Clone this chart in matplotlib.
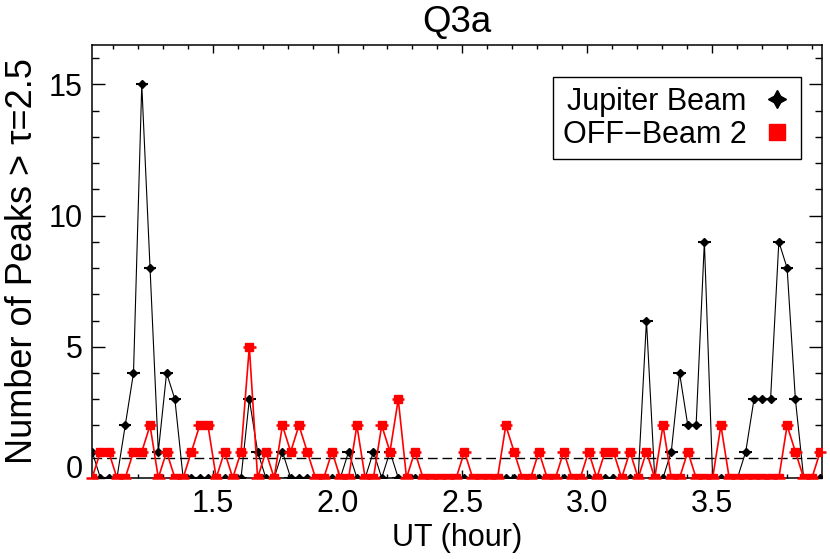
import numpy as np
import matplotlib
matplotlib.use("Agg")
import matplotlib.pyplot as plt
from matplotlib.ticker import MultipleLocator
from matplotlib.lines import Line2D

plt.rcParams['font.family'] = ['Liberation Sans', 'DejaVu Sans']
plt.rcParams['font.size'] = 22

# scan times (UT hour), one scan every ~2 min
t_start = 1.017
t_step = 0.03314
n_scans = 89
ut = t_start + np.arange(n_scans) * t_step

# number of peaks above tau=2.5 per scan
jupiter = [1, 0, 0, 0, 2, 4, 15, 8, 1, 4, 3, 0, 0, 0, 0, 0, 0, 0, 0, 3,
           1, 0, 0, 1, 0, 0, 0, 0, 0, 0, 0, 1, 0, 0, 1, 0, 1, 0, 0, 0,
           0, 0, 0, 0, 0, 0, 0, 0, 0, 0, 0, 0, 0, 0, 0, 0, 0, 0, 0, 0,
           0, 0, 0, 0, 0, 0, 0, 6, 0, 0, 1, 4, 2, 2, 9, 0, 0, 0, 0, 1,
           3, 3, 3, 9, 8, 3, 0, 0, 0]
off_beam2 = [0, 1, 1, 0, 0, 1, 1, 2, 0, 1, 0, 0, 1, 2, 2, 0, 1, 0, 1, 5,
             0, 1, 0, 2, 1, 2, 1, 0, 0, 1, 0, 0, 2, 0, 0, 2, 1, 3, 0, 1,
             0, 0, 0, 0, 0, 1, 0, 0, 0, 0, 2, 1, 0, 0, 1, 0, 0, 1, 0, 0,
             1, 0, 1, 1, 0, 1, 0, 1, 0, 2, 0, 0, 1, 0, 0, 0, 2, 0, 0, 0,
             0, 0, 0, 0, 2, 1, 0, 0, 1]
threshold = 0.75
half_width = 0.025

fig = plt.figure(figsize=(8.3, 5.59), dpi=100)
ax = fig.add_axes([0.111, 0.145, 0.879, 0.7745])

star = (4, 1, 0)
ax.errorbar(ut, jupiter, xerr=half_width, fmt='-', color='black', lw=0.8,
            marker='D', ms=4, elinewidth=1.5, capsize=0, zorder=3)
eb = ax.errorbar(ut, off_beam2, xerr=half_width, fmt='-', color='red', lw=1.2,
                 marker='s', ms=5.5, elinewidth=1.8, capsize=0, zorder=4)
for c in eb[2]:
    c.set_clip_on(False)
ax.axhline(threshold, color='black', lw=1, dashes=(7, 3.5), zorder=2)

ax.set_xlim(ut[0], ut[-1] + 0.006)
ax.set_ylim(0, 16.5)
ax.xaxis.set_major_locator(MultipleLocator(0.5))
ax.xaxis.set_minor_locator(MultipleLocator(0.1))
ax.yaxis.set_major_locator(MultipleLocator(5))
ax.yaxis.set_minor_locator(MultipleLocator(1))
ax.tick_params(axis='x', which='major', direction='in', top=True, length=5.8, width=1, pad=8)
ax.tick_params(axis='x', which='minor', direction='in', top=True, length=2.9, width=1)
ax.tick_params(axis='y', which='major', direction='in', right=True, length=9.4, width=1, pad=7)
ax.tick_params(axis='y', which='minor', direction='in', right=True, length=5, width=1)
for s in ax.spines.values():
    s.set_linewidth(1.1)

ax.set_title('Q3a', pad=9)
ax.set_xlabel('UT (hour)', labelpad=3)
ax.set_ylabel('Number of Peaks > τ=2.5', fontsize=26, labelpad=6)

handles = [Line2D([], [], ls='none', marker=star, ms=13, color='black'),
           Line2D([], [], ls='none', marker='s', ms=12, color='red')]
leg = ax.legend(handles, ['Jupiter Beam', 'OFF\u2212Beam 2'], loc='upper right',
                bbox_to_anchor=(0.972, 0.925), markerfirst=False, fancybox=False,
                framealpha=1, edgecolor='black', handlelength=1.0, handletextpad=0.5,
                borderpad=0.3, labelspacing=0.1, borderaxespad=0)
leg.get_frame().set_linewidth(1)

fig.canvas.draw()
for tk in ax.yaxis.get_major_ticks():
    if abs(tk.get_loc()) < 1e-9:
        tk.label1.set_va('baseline')

fig.savefig('out.png', dpi=100)
